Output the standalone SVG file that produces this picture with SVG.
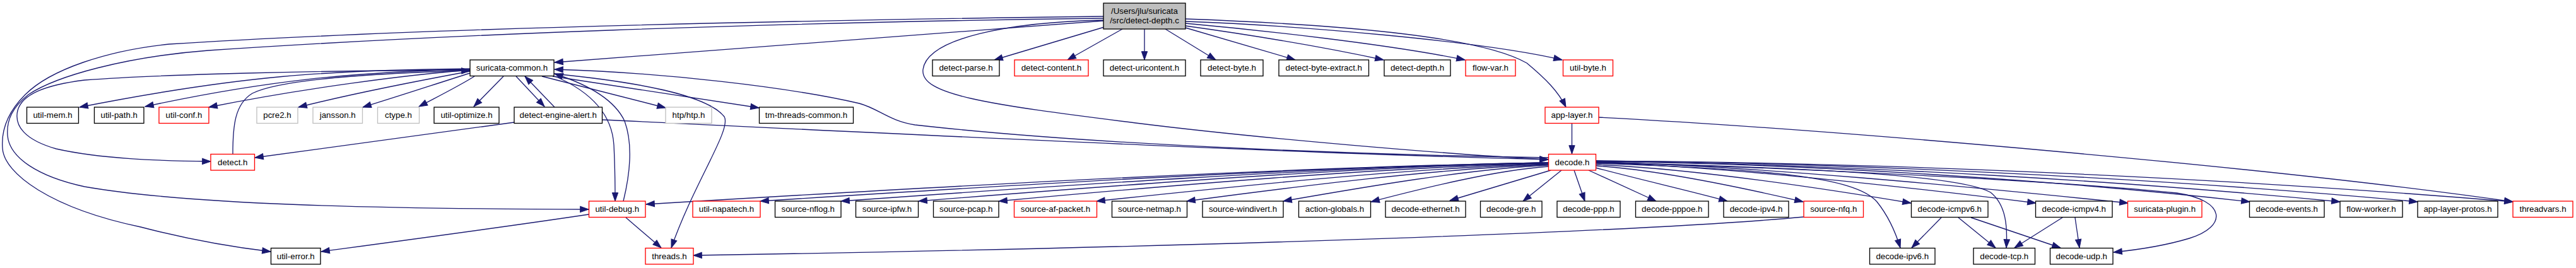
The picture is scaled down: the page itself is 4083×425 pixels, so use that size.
<svg xmlns="http://www.w3.org/2000/svg" width="4083" height="425" viewBox="0 0 4083 425">
<style>
.node rect{fill:#fff;stroke:#000;stroke-width:1.33}
.node.r rect{stroke:#ff0000}
.node.g rect{stroke:#bfbfbf}
.node.root rect{fill:#bfbfbf;stroke:#000}
text{font-family:"Liberation Sans",Arial,Helvetica,sans-serif;font-size:13.33px;text-anchor:middle;fill:#000}
#edges path{fill:none;stroke:#191970;stroke-width:1.33;marker-end:url(#ah)}
</style>
<defs>
<marker id="ah" viewBox="0 0 14 10" refX="13.3" refY="4.67" markerWidth="14" markerHeight="10" markerUnits="userSpaceOnUse" orient="auto" overflow="visible">
<path d="M0,0 L13.3,4.67 L0,9.33 z" fill="#191970" stroke="#191970" stroke-width="1"/>
</marker>
</defs>
<rect width="4083" height="425" fill="#fff"/>
<g id="edges">
<path d="M1749,33 L879,99"/>
<path d="M1750,43 L1576,95"/>
<path d="M1779,46 L1692,95"/>
<path d="M1814,46 L1814,95"/>
<path d="M1847,46 L1927,95"/>
<path d="M1879,44 L2053,95"/>
<path d="M1879,41 C1980,55 2100,75 2193,95"/>
<path d="M1879,37 C2000,48 2200,70 2322,95"/>
<path d="M1879,34 C2050,40 2350,65 2476,95"/>
<path d="M1879,30 C2150,40 2350,60 2420,100 C2450,125 2470,145 2482,170"/>
<path d="M1749,32 C1600,35 1470,60 1463,110 C1458,150 1560,165 1800,195 C2000,220 2300,245 2454,253"/>
<path d="M1749,26 C1200,33 650,46 268,70 C170,80 80,110 40,150 C10,180 2,210 4,235 C6,275 80,330 223,360 C300,380 370,392 429,399"/>
<path d="M1749,29 C1200,36 700,55 330,80 C200,90 90,120 45,150 C20,170 10,190 12,215 C15,250 60,280 134,296 C300,325 600,331 933,332"/>
<path d="M745,109 C520,111 380,120 126,170"/>
<path d="M745,110 C560,114 420,128 230,169"/>
<path d="M745,111 C650,118 480,140 331,170"/>
<path d="M745,113 C680,125 560,148 473,170"/>
<path d="M745,116 C700,130 640,150 575,170"/>
<path d="M752,121 C730,135 700,150 664,169"/>
<path d="M798,121 L751,169"/>
<path d="M818,121 L863,169"/>
<path d="M879,170 L832,121"/>
<path d="M859,121 L1055,171"/>
<path d="M876,121 L1203,171"/>
<path d="M880,121 C935,145 970,180 973,230 C975,270 975,300 975,319"/>
<path d="M988,319 C1000,270 1002,225 990,192 C975,160 935,135 879,117"/>
<path d="M878,117 C1010,130 1120,150 1148,185 C1160,205 1100,290 1064,393"/>
<path d="M745,111 C500,112 250,118 134,127 C70,135 35,150 28,175 C22,200 40,222 89,236 C160,252 250,255 334,256"/>
<path d="M369,244 C369,200 372,165 400,148 C440,128 560,117 745,112"/>
<path d="M815,194 L404,250"/>
<path d="M955,190 C1300,206 2000,242 2454,253"/>
<path d="M2454,250 C2200,246 1750,232 1450,198 C1410,192 1392,172 1362,164 C1250,138 1050,115 879,110"/>
<path d="M2491.5,195.5 L2491.5,244"/>
<path d="M2534,186 C2900,205 3600,265 3983,320"/>
<path d="M992,345 L1048,393"/>
<path d="M933,340 C800,360 650,380 509,399"/>
<path d="M2859,344 C2600,368 1900,392 1099,405"/>
<path d="M2454,258 C2025,265 1453,298 1024,324"/>
<path d="M2454,258 C2079,264 1580,295 1205,319"/>
<path d="M2454,258 C2118,264 1669,295 1333,319"/>
<path d="M2454,258 C2155,264 1755,295 1456,319"/>
<path d="M2454,259 C2193,265 1844,295 1583,319"/>
<path d="M2454,260 C2239,266 1953,296 1738,319"/>
<path d="M2454,261 C2282,267 2053,296 1881,319"/>
<path d="M2454,262 C2328,268 2160,297 2034,319"/>
<path d="M2454,264 C2370,270 2257,298 2173,320"/>
<path d="M2458,270 L2298,318"/>
<path d="M2475,270 L2414,319"/>
<path d="M2495,270 L2512,319"/>
<path d="M2518,270 L2625,319"/>
<path d="M2529,266 C2600,285 2680,303 2738,319"/>
<path d="M2529,263 C2628,269 2759,297 2858,320"/>
<path d="M2529,261 C2679,267 2879,297 3029,322"/>
<path d="M2529,259 C2800,268 2940,280 2975,320 C2995,345 3005,370 3012,393"/>
<path d="M2529,258 C2900,266 3110,280 3155,305 C3180,325 3182,360 3180,393"/>
<path d="M2529,258 C2738,264 3018,296 3227,322"/>
<path d="M2529,257 C2782,263 3120,296 3373,322"/>
<path d="M2529,257 C2900,268 3300,290 3450,306 C3530,318 3530,360 3470,378 C3430,390 3390,396 3350,400"/>
<path d="M2529,256 C2900,260 3300,290 3566,320"/>
<path d="M2529,256 C2950,260 3400,290 3709,320"/>
<path d="M2529,255 C3000,259 3500,289 3832,320"/>
<path d="M2529,255 C3050,258 3600,288 3983,320"/>
<path d="M3077,345 L3030,393"/>
<path d="M3104,345 L3163,393"/>
<path d="M3124,345 L3266,393"/>
<path d="M3269,345 L3193,393"/>
<path d="M3289,345 L3296,393"/>
</g>
<g id="n_root" class="node root"><rect x="1749" y="5" width="130" height="41"/><text x="1814" y="22">/Users/jlu/suricata</text><text x="1814" y="37">/src/detect-depth.c</text></g>
<g id="n_suricata_common" class="node"><rect x="745" y="95" width="133" height="25.5"/><text x="811.5" y="112.35">suricata-common.h</text></g>
<g id="n_detect_parse" class="node"><rect x="1478" y="95" width="106" height="25.5"/><text x="1531" y="112.35">detect-parse.h</text></g>
<g id="n_detect_content" class="node r"><rect x="1608" y="95" width="117" height="25.5"/><text x="1666.5" y="112.35">detect-content.h</text></g>
<g id="n_detect_uricontent" class="node"><rect x="1749" y="95" width="130" height="25.5"/><text x="1814" y="112.35">detect-uricontent.h</text></g>
<g id="n_detect_byte" class="node"><rect x="1903" y="95" width="99" height="25.5"/><text x="1952.5" y="112.35">detect-byte.h</text></g>
<g id="n_detect_byte_extract" class="node"><rect x="2027" y="95" width="142.5" height="25.5"/><text x="2098.25" y="112.35">detect-byte-extract.h</text></g>
<g id="n_detect_depth" class="node"><rect x="2194" y="95" width="105" height="25.5"/><text x="2246.5" y="112.35">detect-depth.h</text></g>
<g id="n_flow_var" class="node r"><rect x="2323" y="95" width="79" height="25.5"/><text x="2362.5" y="112.35">flow-var.h</text></g>
<g id="n_util_byte" class="node r"><rect x="2477.5" y="95" width="79" height="25.5"/><text x="2517" y="112.35">util-byte.h</text></g>
<g id="n_util_mem" class="node"><rect x="42.5" y="170" width="82" height="25.5"/><text x="83.5" y="187.35">util-mem.h</text></g>
<g id="n_util_path" class="node"><rect x="149.5" y="170" width="78.5" height="25.5"/><text x="188.75" y="187.35">util-path.h</text></g>
<g id="n_util_conf" class="node r"><rect x="252" y="170" width="79" height="25.5"/><text x="291.5" y="187.35">util-conf.h</text></g>
<g id="n_pcre2" class="node g"><rect x="407" y="170" width="65" height="25.5"/><text x="439.5" y="187.35">pcre2.h</text></g>
<g id="n_jansson" class="node g"><rect x="496" y="170" width="78.5" height="25.5"/><text x="535.25" y="187.35">jansson.h</text></g>
<g id="n_ctype" class="node g"><rect x="598.5" y="170" width="66" height="25.5"/><text x="631.5" y="187.35">ctype.h</text></g>
<g id="n_util_optimize" class="node"><rect x="688" y="170" width="103" height="25.5"/><text x="739.5" y="187.35">util-optimize.h</text></g>
<g id="n_detect_engine_alert" class="node"><rect x="815" y="170" width="139.5" height="25.5"/><text x="884.75" y="187.35">detect-engine-alert.h</text></g>
<g id="n_htp" class="node g"><rect x="1055" y="170" width="73" height="25.5"/><text x="1091.5" y="187.35">htp/htp.h</text></g>
<g id="n_tm_threads_common" class="node"><rect x="1203.5" y="170" width="149" height="25.5"/><text x="1278" y="187.35">tm-threads-common.h</text></g>
<g id="n_app_layer" class="node r"><rect x="2449" y="170" width="85" height="25.5"/><text x="2491.5" y="187.35">app-layer.h</text></g>
<g id="n_detect" class="node r"><rect x="334" y="244.5" width="69.5" height="25.5"/><text x="368.75" y="261.85">detect.h</text></g>
<g id="n_decode" class="node r"><rect x="2454.5" y="244.5" width="75" height="25.5"/><text x="2492" y="261.85">decode.h</text></g>
<g id="n_util_debug" class="node r"><rect x="933.5" y="319" width="89.5" height="25.5"/><text x="978.25" y="336.35">util-debug.h</text></g>
<g id="n_util_napatech" class="node r"><rect x="1098" y="319" width="107" height="25.5"/><text x="1151.5" y="336.35">util-napatech.h</text></g>
<g id="n_source_nflog" class="node"><rect x="1228.5" y="319" width="104.5" height="25.5"/><text x="1280.75" y="336.35">source-nflog.h</text></g>
<g id="n_source_ipfw" class="node"><rect x="1356.5" y="319" width="99" height="25.5"/><text x="1406" y="336.35">source-ipfw.h</text></g>
<g id="n_source_pcap" class="node"><rect x="1479.5" y="319" width="103.5" height="25.5"/><text x="1531.25" y="336.35">source-pcap.h</text></g>
<g id="n_source_af_packet" class="node r"><rect x="1607.5" y="319" width="131" height="25.5"/><text x="1673" y="336.35">source-af-packet.h</text></g>
<g id="n_source_netmap" class="node"><rect x="1762.5" y="319" width="119" height="25.5"/><text x="1822" y="336.35">source-netmap.h</text></g>
<g id="n_source_windivert" class="node"><rect x="1906" y="319" width="128" height="25.5"/><text x="1970" y="336.35">source-windivert.h</text></g>
<g id="n_action_globals" class="node"><rect x="2058.5" y="319" width="114" height="25.5"/><text x="2115.5" y="336.35">action-globals.h</text></g>
<g id="n_decode_ethernet" class="node"><rect x="2196" y="319" width="127" height="25.5"/><text x="2259.5" y="336.35">decode-ethernet.h</text></g>
<g id="n_decode_gre" class="node"><rect x="2346.5" y="319" width="97.5" height="25.5"/><text x="2395.25" y="336.35">decode-gre.h</text></g>
<g id="n_decode_ppp" class="node"><rect x="2468" y="319" width="100" height="25.5"/><text x="2518" y="336.35">decode-ppp.h</text></g>
<g id="n_decode_pppoe" class="node"><rect x="2592.5" y="319" width="115.5" height="25.5"/><text x="2650.25" y="336.35">decode-pppoe.h</text></g>
<g id="n_decode_ipv4" class="node"><rect x="2732" y="319" width="103" height="25.5"/><text x="2783.5" y="336.35">decode-ipv4.h</text></g>
<g id="n_source_nfq" class="node r"><rect x="2859" y="319" width="94.5" height="25.5"/><text x="2906.25" y="336.35">source-nfq.h</text></g>
<g id="n_decode_icmpv6" class="node"><rect x="3029.5" y="319" width="121.5" height="25.5"/><text x="3090.25" y="336.35">decode-icmpv6.h</text></g>
<g id="n_decode_icmpv4" class="node"><rect x="3226.5" y="319" width="121.5" height="25.5"/><text x="3287.25" y="336.35">decode-icmpv4.h</text></g>
<g id="n_suricata_plugin" class="node r"><rect x="3372.5" y="319" width="117.5" height="25.5"/><text x="3431.25" y="336.35">suricata-plugin.h</text></g>
<g id="n_decode_events" class="node"><rect x="3565.5" y="319" width="118.5" height="25.5"/><text x="3624.75" y="336.35">decode-events.h</text></g>
<g id="n_flow_worker" class="node"><rect x="3709" y="319" width="99" height="25.5"/><text x="3758.5" y="336.35">flow-worker.h</text></g>
<g id="n_app_layer_protos" class="node"><rect x="3832" y="319" width="127" height="25.5"/><text x="3895.5" y="336.35">app-layer-protos.h</text></g>
<g id="n_threadvars" class="node r"><rect x="3983" y="319" width="95" height="25.5"/><text x="4030.5" y="336.35">threadvars.h</text></g>
<g id="n_util_error" class="node"><rect x="429.5" y="393.5" width="78.5" height="25.5"/><text x="468.75" y="410.85">util-error.h</text></g>
<g id="n_threads" class="node r"><rect x="1023" y="393.5" width="76" height="25.5"/><text x="1061" y="410.85">threads.h</text></g>
<g id="n_decode_ipv6" class="node"><rect x="2963.5" y="393.5" width="103.5" height="25.5"/><text x="3015.25" y="410.85">decode-ipv6.h</text></g>
<g id="n_decode_tcp" class="node"><rect x="3128" y="393.5" width="97.5" height="25.5"/><text x="3176.75" y="410.85">decode-tcp.h</text></g>
<g id="n_decode_udp" class="node"><rect x="3249.5" y="393.5" width="99.5" height="25.5"/><text x="3299.25" y="410.85">decode-udp.h</text></g>
</svg>
